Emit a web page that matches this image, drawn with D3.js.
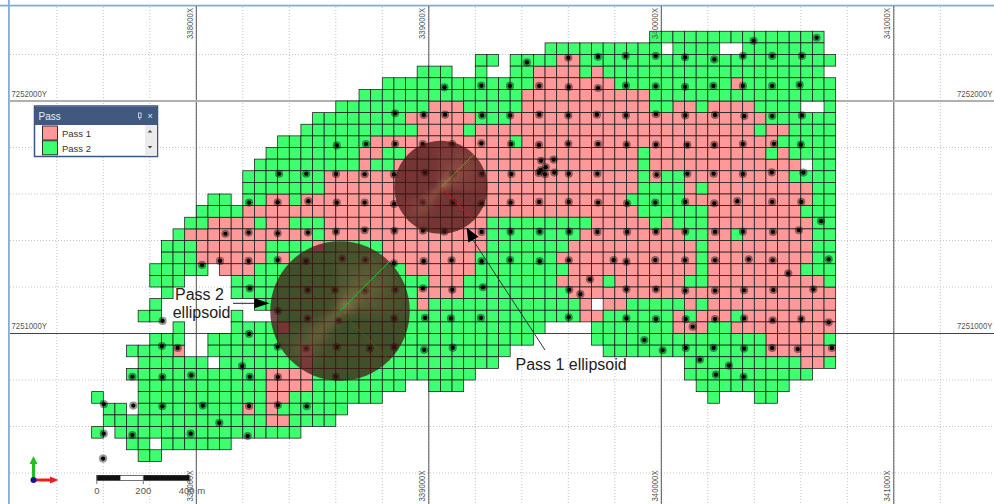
<!DOCTYPE html>
<html>
<head>
<meta charset="utf-8">
<title>Pass</title>
<script src="https://cdn.jsdelivr.net/npm/d3@7"></script>
<style>
  html, body { margin: 0; padding: 0; background: #fff; overflow: hidden; }
  svg { display: block; }
</style>
</head>
<body>
<svg id="chart" width="994" height="504"></svg>
<script>
const eastTicks = [338000, 339000, 340000, 341000];
const northTicks = [7252000, 7251000];
const blockSize = 50;

// block runs, [row, first column, last column], counted from 338000X / 7252000Y
const pass1Blocks = [
  [-4,31,32],[-3,29,32],[-3,34,34],[-2,29,35],[-2,46,46],[-1,28,38],
  [0,20,22],[0,28,38],[0,41,42],[0,44,47],[1,18,23],[1,27,48],
  [2,19,22],[2,24,47],[2,49,50],[3,15,26],[3,28,49],
  [4,14,15],[4,18,37],[4,39,48],[4,50,50],[5,14,14],[5,17,37],[5,39,51],
  [6,11,37],[6,39,39],[6,42,50],[7,11,37],[7,42,42],[7,44,52],
  [8,6,7],[8,9,36],[8,42,52],[9,4,37],[9,44,51],
  [10,1,4],[10,6,7],[10,11,24],[10,34,38],[10,40,40],[10,44,52],
  [11,-1,9],[11,11,24],[11,33,41],[11,44,45],[11,47,52],
  [12,0,5],[12,10,10],[12,16,24],[12,32,42],[12,44,52],
  [13,0,5],[13,7,7],[13,16,23],[13,31,42],[13,44,52],
  [14,2,4],[14,18,23],[14,32,42],[14,44,51],
  [15,20,22],[15,31,34],[15,36,41],[15,44,53],[16,19,22],[16,32,54],
  [17,19,19],[17,33,33],[17,35,36],[17,42,42],[17,44,54],
  [18,33,34],[18,41,41],[18,43,45],[18,47,54],[19,7,7],[19,41,43],[19,46,54],
  [20,49,53],[21,-2,-2],[21,9,9],[21,49,54],[22,9,9],[22,52,53],
  [23,6,9],[24,6,9],[25,6,7],[26,4,4],[26,6,6],[27,6,7]
];
const pass2Blocks = [
  [-6,39,53],[-5,30,39],[-5,41,44],[-5,47,53],
  [-4,24,25],[-4,27,30],[-4,33,54],
  [-3,19,21],[-3,24,24],[-3,27,28],[-3,33,33],[-3,35,53],
  [-2,16,28],[-2,36,45],[-2,47,54],[-1,14,27],[-1,39,54],
  [0,12,19],[0,23,27],[0,39,40],[0,43,43],[0,48,51],[0,54,54],
  [1,10,17],[1,24,26],[1,49,54],[2,9,18],[2,23,23],[2,48,48],[2,51,54],
  [3,7,14],[3,27,27],[3,50,54],[4,6,13],[4,16,17],[4,38,38],[4,49,49],[4,51,54],
  [5,5,13],[5,15,16],[5,38,38],[5,53,54],[6,4,10],[6,38,38],[6,40,41],[6,51,54],
  [7,4,10],[7,38,41],[7,43,43],[7,53,54],[8,1,2],[8,4,5],[8,8,8],[8,37,41],[8,53,54],
  [9,0,3],[9,38,43],[9,52,54],
  [10,-1,0],[10,5,5],[10,8,10],[10,25,33],[10,39,39],[10,41,43],[10,53,54],
  [11,-2,-2],[11,10,10],[11,25,32],[11,42,43],[11,46,46],[11,53,54],
  [12,-3,-1],[12,6,9],[12,11,15],[12,25,31],[12,43,43],[12,53,54],
  [13,-3,-1],[13,6,6],[13,8,15],[13,24,30],[13,43,43],[13,53,54],
  [14,-4,0],[14,5,17],[14,24,31],[14,43,43],[14,52,54],
  [15,-4,-2],[15,3,19],[15,23,30],[15,35,35],[15,42,43],[15,54,54],
  [16,-3,-3],[16,3,18],[16,23,31],
  [17,-4,-4],[17,5,18],[17,20,32],[17,37,41],[17,43,43],
  [18,-5,-4],[18,3,3],[18,7,32],[18,35,40],[18,42,42],[18,46,46],
  [19,-2,-2],[19,3,6],[19,8,29],[19,34,40],[19,44,45],
  [20,-4,-2],[20,1,28],[20,34,48],[20,54,54],
  [21,-6,-3],[21,1,8],[21,10,26],[21,35,48],
  [22,-5,0],[22,2,8],[22,10,25],[22,42,51],[22,54,54],
  [23,-6,5],[23,10,23],[23,42,52],[24,-5,5],[24,10,17],[24,20,22],[24,43,50],
  [25,-9,-9],[25,-5,5],[25,8,15],[25,44,44],[25,48,49],
  [26,-8,-7],[26,-5,3],[26,5,5],[26,7,12],[27,-8,5],[27,8,11],
  [28,-9,-9],[28,-7,8],[29,-6,-5],[29,-3,2],[30,-5,-4]
];

// drill holes, metres east of 338000X and north of 7252000Y
const drillHoles = [
  [1422,166],[1600,186],[1728,190],[2397,259],[2668,272],
  [1847,194],[1976,194],[2102,188],[2228,179],[2351,194],[2477,194],[2605,194],
  [1067,59],[1226,66],[1349,65],[1475,65],[1602,60],[1728,56],[1848,66],[1976,63],
  [2102,61],[2224,65],[2351,65],[2477,65],[2595,69],
  [855,-53],[978,-60],[1070,-59],[1229,-62],[1350,-62],[1475,-59],[1600,-62],[1723,-59],
  [1848,-62],[1977,-57],[2103,-62],[2231,-60],[2357,-65],[2477,-65],[2605,-62],
  [604,-191],[730,-185],[855,-185],[974,-185],[1101,-185],[1226,-182],[1354,-185],[1474,-189],
  [1600,-184],[1728,-185],[1851,-188],[1977,-188],[2112,-189],[2228,-189],[2351,-185],[2485,-184],[2600,-188],
  [1483,-257],[1537,-252],[1503,-285],[1481,-297],[1473,-310],[1500,-315],[1540,-308],
  [356,-313],[473,-313],[601,-314],[724,-315],[850,-316],[984,-308],[1104,-314],[1229,-313],[1355,-314],
  [1602,-313],[1725,-313],[1980,-317],[2112,-313],[2225,-313],[2351,-314],[2475,-307],[2611,-308],
  [227,-437],[350,-436],[482,-431],[604,-437],[724,-437],[851,-443],[975,-437],[1104,-437],[1227,-441],
  [1352,-437],[1475,-434],[1602,-434],[1728,-437],[1853,-440],[1974,-437],[2103,-434],[2228,-440],
  [2327,-431],[2477,-434],[2602,-434],[2687,-517],
  [125,-571],[225,-566],[350,-569],[480,-566],[601,-562],[724,-556],[852,-558],[975,-558],[1067,-562],
  [1227,-563],[1352,-562],[1477,-562],[1604,-562],[1725,-563],[1853,-563],[1977,-562],[2103,-562],
  [2231,-563],[2351,-562],[2480,-563],[2592,-556],
  [25,-705],[102,-688],[225,-688],[350,-684],[472,-689],[628,-678],[727,-684],[850,-698],[978,-689],
  [1098,-685],[1227,-689],[1350,-684],[1477,-689],[1602,-685],[1795,-684],[1850,-691],[1974,-684],
  [2102,-685],[2231,-685],[2376,-681],[2479,-685],[2546,-741],[2720,-681],[1693,-767],
  [230,-806],[479,-813],[597,-813],[726,-817],[856,-812],[975,-806],[1101,-812],[1233,-801],[1604,-812],
  [1652,-831],[1850,-810],[1977,-810],[2103,-816],[2231,-816],[2356,-814],[2482,-813],[2654,-810],
  [-145,-946],[351,-903],[479,-936],[611,-944],[851,-936],[984,-933],[1095,-935],[1224,-933],[1602,-930],
  [1850,-935],[1977,-938],[2105,-938],[2231,-938],[2356,-935],[2479,-943],[2602,-938],[2720,-952],[2135,-971],[227,-1002],
  [-148,-1054],[-80,-1062],[350,-1057],[473,-1064],[605,-1058],[747,-1064],[851,-1059],[980,-1070],[1103,-1061],
  [1927,-1028],[2006,-1072],[2105,-1062],[2225,-1062],[2356,-1065],[2477,-1062],[2587,-1067],[2734,-1062],
  [2166,-1113],[2291,-1138],[2235,-1177],[2354,-1186],[197,-1140],
  [-275,-1186],[-146,-1187],[-22,-1180],[230,-1186],[351,-1187],[600,-1186],
  [-398,-1304],[-271,-1310],[-146,-1313],[28,-1310],[227,-1312],[351,-1308],[475,-1313],[99,-1384],
  [-398,-1431],[-275,-1437],[-24,-1431],[221,-1441],[-401,-1538]
];

// search ellipsoids, centre in the same local metres, radius in metres
const ellipsoids = [
  { name: "Pass 1", east: 1052, north: -371, radius: 200 },
  { name: "Pass 2", east: 618, north: -903, radius: 300 }
];
const legendItems = ["Pass 1", "Pass 2"];
const scaleSegments = [[0, 100, "#111"], [100, 200, "#fff"], [200, 400, "#111"]];
const scaleLabels = [[0, "0"], [200, "200"], [400, "400 m"]];

const passColor = { 1: "#ff9999", 2: "#3dff70" };

const svg = d3.select("#chart");
const defs = svg.append("defs");

const x = d3.scaleLinear().domain([338000, 341000]).range([196.3, 893.8]);
const y = d3.scaleLinear().domain([7252000, 7251000]).range([101, 333.5]);

// window frame
svg.append("rect").attr("x", 8).attr("y", 0).attr("width", 1.8).attr("height", 504).attr("fill", "#84abdc");
svg.append("rect").attr("x", 0).attr("y", 4.7).attr("width", 994).attr("height", 1.8).attr("fill", "#84abdc");

// dotted 200 m grid
const grid = svg.append("g").attr("stroke", "#c4c4c4").attr("stroke-dasharray", "1,2");
grid.selectAll(".e").data(d3.range(337400, 341400, 200)).enter().append("line")
  .attr("x1", d => x(d)).attr("x2", d => x(d)).attr("y1", 7).attr("y2", 504);
grid.selectAll(".n").data(d3.range(7250400, 7252400, 200)).enter().append("line")
  .attr("x1", 10).attr("x2", 994).attr("y1", d => y(d)).attr("y2", d => y(d));

// main grid lines
svg.append("g").selectAll("line").data(eastTicks).enter().append("line")
  .attr("x1", d => x(d)).attr("x2", d => x(d)).attr("y1", 6).attr("y2", 504)
  .attr("stroke", "#555").attr("stroke-width", 1);
svg.append("g").selectAll("line").data(northTicks).enter().append("line")
  .attr("x1", 10).attr("x2", 994).attr("y1", d => y(d)).attr("y2", d => y(d))
  .attr("stroke", (d, i) => (i === 0 ? "#b0b0b0" : "#444"))
  .attr("stroke-width", (d, i) => (i === 0 ? 2 : 1));

// block model
function expandBlocks(runs, pass) {
  const out = [];
  runs.forEach(([row, first, last]) => {
    for (let col = first; col <= last; col += 1) out.push({ row, col, pass });
  });
  return out;
}
const blocks = expandBlocks(pass1Blocks, 1).concat(expandBlocks(pass2Blocks, 2));
svg.append("g").selectAll("rect").data(blocks).enter().append("rect")
  .attr("x", d => x(338000 + d.col * blockSize))
  .attr("y", d => y(7252000 - d.row * blockSize))
  .attr("width", d => x(338000 + (d.col + 1) * blockSize) - x(338000 + d.col * blockSize))
  .attr("height", d => y(7252000 - (d.row + 1) * blockSize) - y(7252000 - d.row * blockSize))
  .attr("fill", d => passColor[d.pass])
  .attr("stroke", "#1a1a1a").attr("stroke-width", 0.75);

// drill holes
const holes = svg.append("g");
holes.selectAll(".halo").data(drillHoles).enter().append("circle")
  .attr("cx", d => x(338000 + d[0])).attr("cy", d => y(7252000 + d[1]))
  .attr("r", 4.1).attr("fill", "#000").attr("fill-opacity", 0.42);
holes.selectAll(".dot").data(drillHoles).enter().append("circle")
  .attr("cx", d => x(338000 + d[0])).attr("cy", d => y(7252000 + d[1]))
  .attr("r", 2.1).attr("fill", "#000");

// ellipsoids, drawn as shaded spheres
const sheen = defs.append("radialGradient").attr("id", "sheen")
  .attr("gradientUnits", "userSpaceOnUse").attr("cx", 0).attr("cy", 0).attr("r", 1);
sheen.append("stop").attr("offset", 0).attr("stop-color", "#ffc890").attr("stop-opacity", 0.55);
sheen.append("stop").attr("offset", 0.2).attr("stop-color", "#ffb080").attr("stop-opacity", 0.13);
sheen.append("stop").attr("offset", 1).attr("stop-color", "#ffb080").attr("stop-opacity", 0.02);

const wedge = d3.arc().innerRadius(0).outerRadius(1);
const wedges = [[225, 9], [225, 22], [45, 20], [45, 50]];

ellipsoids.forEach((e, i) => {
  const cx = x(338000 + e.east);
  const cy = y(7252000 + e.north);
  const r = x(338000 + e.radius) - x(338000);
  defs.append("clipPath").attr("id", "sphere" + i).append("circle").attr("r", r);
  defs.append("filter").attr("id", "soft" + i)
    .attr("x", "-30%").attr("y", "-30%").attr("width", "160%").attr("height", "160%")
    .append("feGaussianBlur").attr("stdDeviation", r * 0.07);
  const g = svg.append("g").attr("transform", `translate(${cx},${cy})`);
  g.append("circle").attr("r", r).attr("fill", "rgb(68,18,18)").attr("fill-opacity", 0.74);
  g.append("g").attr("clip-path", `url(#sphere${i})`)
    .append("g").attr("filter", `url(#soft${i})`)
    .append("g").attr("transform", `scale(${r})`).selectAll("path").data(wedges).enter().append("path")
    .attr("d", d => wedge({
      startAngle: (d[0] - d[1]) * Math.PI / 180,
      endAngle: (d[0] + d[1]) * Math.PI / 180
    }))
    .attr("fill", "url(#sheen)");
  const lineEnd = r * 0.707;
  g.append("line").attr("x2", lineEnd).attr("y2", -lineEnd).attr("stroke", "#35b535").attr("stroke-width", 1);
  g.append("line").attr("x2", lineEnd).attr("y2", lineEnd).attr("stroke", "#d01818").attr("stroke-width", 1);
});

// coordinate labels, squeezed sideways like the map's own font
const labelStyle = sel => sel
  .attr("font-family", "'Liberation Sans', Arial, sans-serif")
  .attr("font-size", 9.5).attr("fill", "#555");

[39, 501.5].forEach(bottom => {
  svg.append("g").selectAll("text").data(eastTicks).enter().append("text")
    .attr("transform", d => `translate(${x(d) - 3.6},${bottom}) rotate(-90) scale(0.82,1)`)
    .text(d => d + "X").call(labelStyle);
});
[11.5, 957].forEach(left => {
  svg.append("g").selectAll("text").data(northTicks).enter().append("text")
    .attr("transform", d => `translate(${left},${y(d) - 4.5}) scale(0.82,1)`)
    .text(d => d + "Y").call(labelStyle);
});

// annotations
const note = svg.append("g")
  .attr("font-family", "'Liberation Sans', Arial, sans-serif")
  .attr("font-size", 16).attr("fill", "#222");
note.append("text").attr("x", 175).attr("y", 300).text("Pass 2");
note.append("text").attr("x", 172.7).attr("y", 318.3).text("ellipsoid");
note.append("text").attr("x", 515.5).attr("y", 370).text("Pass 1 ellipsoid");

const arrowLine = d3.line();
svg.append("path").attr("d", arrowLine([[233, 303.3], [256, 303.3]])).attr("stroke", "#222").attr("fill", "none");
svg.append("path").attr("d", arrowLine([[254.3, 298.3], [269.5, 303.2], [254.3, 308.3]]) + "Z").attr("fill", "#000");
svg.append("path").attr("d", arrowLine([[545, 350], [473, 240]])).attr("stroke", "#333").attr("fill", "none");
svg.append("path").attr("d", arrowLine([[466.7, 227.7], [478.5, 236.7], [468.3, 242.5]]) + "Z").attr("fill", "#000");

// legend window
const legend = svg.append("g").attr("font-family", "'Liberation Sans', Arial, sans-serif");
legend.append("rect").attr("x", 34.5).attr("y", 106).attr("width", 123).attr("height", 50.5)
  .attr("fill", "#fff").attr("stroke", "#3c5680").attr("stroke-width", 1.5);
legend.append("rect").attr("x", 35).attr("y", 106.5).attr("width", 122).attr("height", 18.5).attr("fill", "#41597f");
legend.append("text").attr("x", 38.5).attr("y", 120).attr("font-size", 10).attr("fill", "#e8eef8").text("Pass");
legend.append("rect").attr("x", 138.5).attr("y", 113).attr("width", 2.6).attr("height", 4.5)
  .attr("fill", "none").attr("stroke", "#dfe6f2").attr("stroke-width", 0.8);
legend.append("path").attr("d", arrowLine([[139.8, 117.5], [139.8, 120]])).attr("stroke", "#dfe6f2").attr("stroke-width", 0.8);
legend.append("text").attr("x", 147.5).attr("y", 119).attr("font-size", 9).attr("fill", "#dfe6f2").text("\u00d7");
legend.append("rect").attr("x", 145).attr("y", 125).attr("width", 12).attr("height", 30.5).attr("fill", "#ebebeb");
legend.append("path").attr("d", arrowLine([[147.7, 132.5], [152.3, 132.5], [150, 130]]) + "Z").attr("fill", "#444");
legend.append("path").attr("d", arrowLine([[147.7, 146], [152.3, 146], [150, 148.5]]) + "Z").attr("fill", "#444");
legendItems.forEach((name, i) => {
  legend.append("rect").attr("x", 42.5).attr("y", 126 + i * 14.8).attr("width", 15).attr("height", 14)
    .attr("fill", passColor[i + 1]).attr("stroke", "#222").attr("stroke-width", 0.9);
  legend.append("text").attr("x", 62).attr("y", 137 + i * 15).attr("font-size", 9.5).attr("fill", "#333").text(name);
});

// axis triad
const triad = svg.append("g");
triad.append("path").attr("d", arrowLine([[33.5, 480], [33.5, 462]])).attr("stroke", "#1fc01f").attr("stroke-width", 3);
triad.append("path").attr("d", arrowLine([[29.5, 464], [33.5, 456], [37.5, 464]]) + "Z").attr("fill", "#1fc01f");
triad.append("path").attr("d", arrowLine([[33.5, 480], [50, 480]])).attr("stroke", "#e62020").attr("stroke-width", 3);
triad.append("path").attr("d", arrowLine([[50, 476.5], [58.5, 480], [50, 483.5]]) + "Z").attr("fill", "#e62020");
triad.append("circle").attr("cx", 33.5).attr("cy", 480).attr("r", 3).attr("fill", "#1414a0");

// scale bar
const scaleBar = d3.scaleLinear().domain([0, 400]).range([96.8, 189.8]);
const bar = svg.append("g");
bar.selectAll("rect").data(scaleSegments).enter().append("rect")
  .attr("x", d => scaleBar(d[0])).attr("y", 475.3)
  .attr("width", d => scaleBar(d[1]) - scaleBar(d[0])).attr("height", 5)
  .attr("fill", d => d[2]).attr("stroke", "#111").attr("stroke-width", 0.6);
bar.selectAll("line").data(scaleLabels).enter().append("line")
  .attr("x1", d => scaleBar(d[0])).attr("x2", d => scaleBar(d[0]))
  .attr("y1", 475).attr("y2", 484).attr("stroke", "#777");
bar.selectAll("text").data(scaleLabels).enter().append("text")
  .attr("x", d => scaleBar(d[0]) - (d[0] === 400 ? 11 : 0)).attr("y", 494)
  .attr("text-anchor", d => (d[0] === 400 ? "start" : "middle"))
  .attr("font-family", "'Liberation Sans', Arial, sans-serif").attr("font-size", 9.5).attr("fill", "#555")
  .text(d => d[1]);
</script>
</body>
</html>
